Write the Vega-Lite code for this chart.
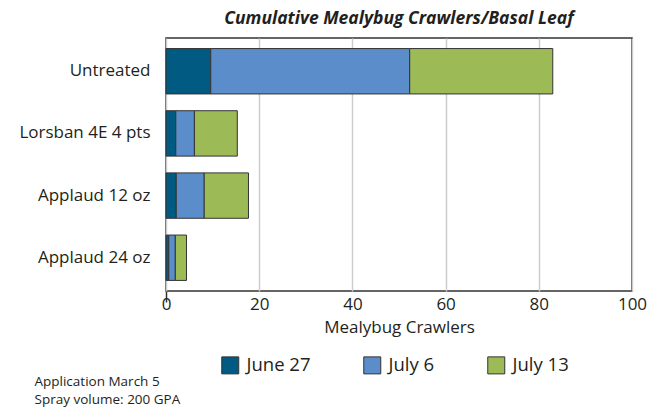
{
  "$schema": "https://vega.github.io/schema/vega-lite/v6.json",
  "width": 466,
  "height": 253,
  "autosize": {"type": "none"},
  "padding": {"left": 166, "top": 38, "right": 30, "bottom": 117},
  "background": "white",
  "title": {
    "text": "Cumulative Mealybug Crawlers/Basal Leaf",
    "font": "Open Sans",
    "fontSize": 17.5,
    "fontWeight": "bold",
    "fontStyle": "italic",
    "color": "#231f20",
    "anchor": "middle",
    "offset": 11
  },
  "data": {
    "values": [
      {"treatment": "Untreated", "date": "June 27", "order": 1, "crawlers": 9.6},
      {"treatment": "Untreated", "date": "July 6", "order": 2, "crawlers": 42.7},
      {"treatment": "Untreated", "date": "July 13", "order": 3, "crawlers": 30.7},
      {"treatment": "Lorsban 4E 4 pts", "date": "June 27", "order": 1, "crawlers": 2.1},
      {"treatment": "Lorsban 4E 4 pts", "date": "July 6", "order": 2, "crawlers": 4.0},
      {"treatment": "Lorsban 4E 4 pts", "date": "July 13", "order": 3, "crawlers": 9.2},
      {"treatment": "Applaud 12 oz", "date": "June 27", "order": 1, "crawlers": 2.2},
      {"treatment": "Applaud 12 oz", "date": "July 6", "order": 2, "crawlers": 6.0},
      {"treatment": "Applaud 12 oz", "date": "July 13", "order": 3, "crawlers": 9.5},
      {"treatment": "Applaud 24 oz", "date": "June 27", "order": 1, "crawlers": 0.6},
      {"treatment": "Applaud 24 oz", "date": "July 6", "order": 2, "crawlers": 1.4},
      {"treatment": "Applaud 24 oz", "date": "July 13", "order": 3, "crawlers": 2.4}
    ]
  },
  "mark": {"type": "bar", "stroke": "#333333", "strokeWidth": 1},
  "encoding": {
    "y": {
      "field": "treatment",
      "type": "nominal",
      "sort": ["Untreated", "Lorsban 4E 4 pts", "Applaud 12 oz", "Applaud 24 oz"],
      "scale": {"paddingInner": 0.27, "paddingOuter": 0.17},
      "axis": {
        "title": ["Application March 5", "Spray volume: 200 GPA"],
        "titleAngle": 0,
        "titleX": -132,
        "titleY": 336,
        "titleAlign": "left",
        "titleBaseline": "top",
        "titleFont": "Open Sans",
        "titleFontSize": 13.5,
        "titleFontWeight": "normal",
        "titleColor": "#231f20",
        "titleLineHeight": 18,
        "ticks": false,
        "domain": false,
        "labelFont": "Open Sans",
        "labelFontSize": 17,
        "labelColor": "#231f20",
        "labelPadding": 16
      }
    },
    "x": {
      "field": "crawlers",
      "type": "quantitative",
      "stack": "zero",
      "scale": {"domain": [0, 100], "nice": false},
      "axis": {
        "title": "Mealybug Crawlers",
        "values": [0, 20, 40, 60, 80, 100],
        "grid": true,
        "gridColor": "#cccccc",
        "gridWidth": 1.5,
        "ticks": true,
        "tickSize": 11,
        "tickWidth": 1.5,
        "tickColor": {"condition": {"test": "datum.value == 0", "value": "#333333"}, "value": "transparent"},
        "domain": false,
        "labelFont": "Open Sans",
        "labelFontSize": 17,
        "labelColor": "#231f20",
        "labelPadding": -6,
        "labelFlush": false,
        "titleFont": "Open Sans",
        "titleFontSize": 17,
        "titleFontWeight": "normal",
        "titleColor": "#231f20",
        "titlePadding": 7
      }
    },
    "color": {
      "field": "date",
      "type": "nominal",
      "sort": ["June 27", "July 6", "July 13"],
      "scale": {
        "domain": ["June 27", "July 6", "July 13"],
        "range": ["#005a82", "#5a8dca", "#9cbb57"]
      },
      "legend": {
        "title": null,
        "orient": "none",
        "direction": "horizontal",
        "legendX": 55,
        "legendY": 318,
        "padding": 0,
        "symbolType": "square",
        "symbolSize": 289,
        "symbolOpacity": 1,
        "symbolStrokeColor": "#333333",
        "symbolStrokeWidth": 1,
        "labelFont": "Open Sans",
        "labelFontSize": 18.5,
        "labelColor": "#231f20",
        "labelOffset": 7,
        "columnPadding": 50
      }
    },
    "order": {"field": "order", "type": "quantitative"}
  },
  "config": {
    "view": {"stroke": "#333333", "strokeWidth": 1.5}
  }
}
